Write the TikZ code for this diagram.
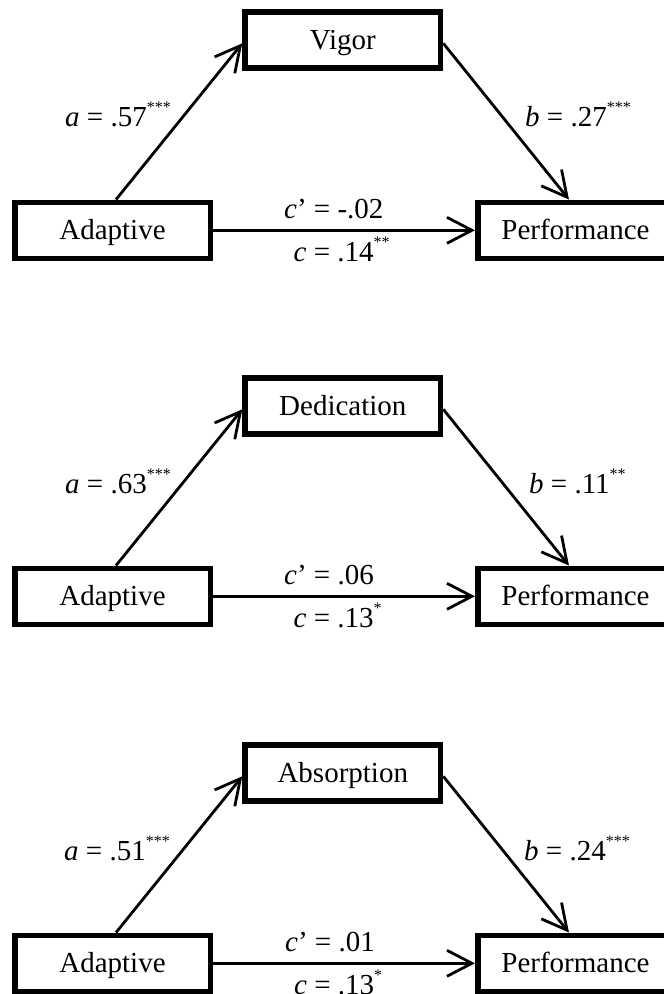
\documentclass[tikz,border=0pt]{standalone}
\usepackage{fontspec}
\setmainfont{Liberation Serif}
\usetikzlibrary{arrows.meta}
\newcommand{\sig}[1]{\raisebox{14pt}{\fontsize{16}{16}\selectfont #1}}
\tikzset{
  varbox/.style={draw, line width=5.5pt, minimum width=195.5pt, minimum height=56pt,
    inner sep=0pt, text height=19pt, text depth=0pt, font=\fontsize{29}{34}\selectfont},
  arr/.style={line width=2.8pt, -{Straight Barb[length=25pt,width=26pt]}},
  lab/.style={anchor=base west, inner sep=0pt, font=\fontsize{29}{34}\selectfont},
}
\begin{document}
\begin{tikzpicture}[x=1pt,y=-1pt]
\path[use as bounding box, clip] (0,0) rectangle (664,994);
% ---- panel 1
\node[varbox] (md1) at (342.8,40) {Vigor};
\node[varbox] (ad1) at (112.5,230.3) {Adaptive};
\node[varbox] (pf1) at (575.5,230.3) {Performance};
\draw[arr] ([xshift=3.5pt]ad1.north) -- ([yshift=-3.3pt]md1.west);
\draw[arr] ([yshift=-3.3pt]md1.east) -- ([xshift=-6.5pt]pf1.north);
\draw[arr] (ad1.east) -- (pf1.west);
\node[lab] (la1) at (65,126.7) {\textit{a} = .57\sig{***}};
\node[lab] (lb1) at (525,126.7) {\textit{b} = .27\sig{***}};
\node[lab] (lcp1) at (284,218.3) {\textit{c}’ = -.02};
\node[lab] (lc1) at (293.5,261.7) {\textit{c} = .14\sig{**}};
% ---- panel 2
\node[varbox] (md2) at (342.8,406) {Dedication};
\node[varbox] (ad2) at (112.5,596.3) {Adaptive};
\node[varbox] (pf2) at (575.5,596.3) {Performance};
\draw[arr] ([xshift=3.5pt]ad2.north) -- ([yshift=-3.3pt]md2.west);
\draw[arr] ([yshift=-3.3pt]md2.east) -- ([xshift=-6.5pt]pf2.north);
\draw[arr] (ad2.east) -- (pf2.west);
\node[lab] (la2) at (65,493.3) {\textit{a} = .63\sig{***}};
\node[lab] (lb2) at (529,493.3) {\textit{b} = .11\sig{**}};
\node[lab] (lcp2) at (284,584.3) {\textit{c}’ = .06};
\node[lab] (lc2) at (293.5,627.7) {\textit{c} = .13\sig{*}};
% ---- panel 3
\node[varbox] (md3) at (342.8,773) {Absorption};
\node[varbox] (ad3) at (112.5,963.3) {Adaptive};
\node[varbox] (pf3) at (575.5,963.3) {Performance};
\draw[arr] ([xshift=3.5pt]ad3.north) -- ([yshift=-3.3pt]md3.west);
\draw[arr] ([yshift=-3.3pt]md3.east) -- ([xshift=-6.5pt]pf3.north);
\draw[arr] (ad3.east) -- (pf3.west);
\node[lab] (la3) at (64,860.3) {\textit{a} = .51\sig{***}};
\node[lab] (lb3) at (524,860.3) {\textit{b} = .24\sig{***}};
\node[lab] (lcp3) at (285,951.3) {\textit{c}’ = .01};
\node[lab] (lc3) at (294,994.7) {\textit{c} = .13\sig{*}};
\end{tikzpicture}
\end{document}
